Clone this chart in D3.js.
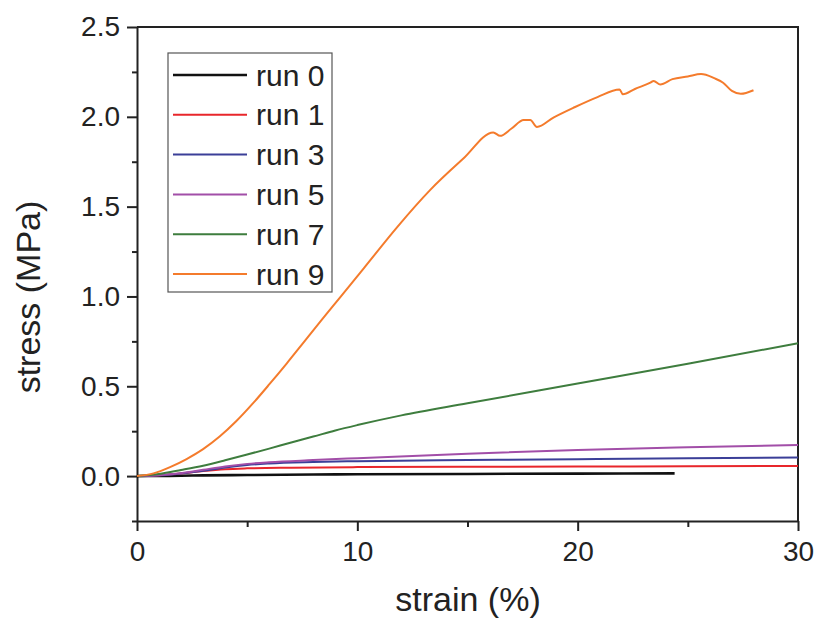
<!DOCTYPE html>
<html>
<head>
<meta charset="utf-8">
<script src="https://cdn.jsdelivr.net/npm/d3@7"></script>
<style>
  body { margin: 0; background: #fff; }
  text { font-family: "Liberation Sans", Arial, sans-serif; fill: #222; }
</style>
</head>
<body>
<div id="chart"></div>
<script>
// run labels and colours
const runNames = ['run 0', 'run 1', 'run 3', 'run 5', 'run 7', 'run 9'];
const runColors = ['#111111', '#e8262b', '#3b3f98', '#a24ea8', '#3e7d3e', '#f47b2c'];

// strain (%) / stress (MPa)
const run0Strain = [0, 1, 2, 3, 5, 8, 10, 15, 20, 24.4];
const run0Stress = [0, 0.001, 0.002, 0.004, 0.006, 0.009, 0.010, 0.012, 0.014, 0.015];

const run1Strain = [0, 1, 2, 3, 4, 5, 7, 10, 15, 20, 25, 30];
const run1Stress = [0, 0.005, 0.015, 0.028, 0.038, 0.043, 0.047, 0.050, 0.052, 0.053, 0.055, 0.056];

const run3Strain = [0, 1, 2, 3, 4, 5, 6, 8, 10, 15, 20, 25, 30];
const run3Stress = [0, 0.004, 0.015, 0.03, 0.048, 0.062, 0.07, 0.078, 0.083, 0.089, 0.094, 0.099, 0.104];

const run5Strain = [0, 1, 2, 3, 4, 5, 6, 8, 10, 15, 20, 25, 30];
const run5Stress = [0, 0.005, 0.016, 0.035, 0.054, 0.068, 0.077, 0.089, 0.100, 0.125, 0.145, 0.160, 0.173];

const run7Strain = [0, 1, 2, 3, 4, 5, 6, 7, 8, 9, 10, 12, 15, 20, 25, 30];
const run7Stress = [0, 0.012, 0.034, 0.058, 0.088, 0.12, 0.153, 0.187, 0.22, 0.254, 0.284, 0.338, 0.405, 0.515, 0.625, 0.74];

const run9Strain = [0, 0.75, 1.5, 2.25, 3, 3.75, 4.5, 5.3, 6.0, 6.8, 7.6, 8.4, 9.2, 10.3, 11.8, 13.3, 14.8,
  16.17, 16.48, 17.0, 17.55, 17.85, 18.15, 18.9, 19.8, 20.9, 21.9, 22.05, 22.6, 23.3, 23.45, 23.75, 24.3, 25.0,
  25.6, 26.2, 26.6, 27.0, 27.4, 27.98];
const run9Stress = [0, 0.015, 0.05, 0.095, 0.15, 0.22, 0.305, 0.41, 0.51, 0.628, 0.75, 0.872, 0.992, 1.158, 1.385, 1.592, 1.766,
  1.913, 1.894, 1.935, 1.982, 1.982, 1.944, 1.996, 2.05, 2.11, 2.152, 2.125, 2.155, 2.19, 2.2, 2.18, 2.21, 2.225,
  2.238, 2.215, 2.19, 2.144, 2.128, 2.148];

const xTicks = [0, 10, 20, 30];
const yTicks = [0.0, 0.5, 1.0, 1.5, 2.0, 2.5];
const xMinor = [5, 15, 25];
const yMinor = [-0.25, 0.25, 0.75, 1.25, 1.75, 2.25];

const runs = [
  [run0Strain, run0Stress], [run1Strain, run1Stress], [run3Strain, run3Stress],
  [run5Strain, run5Stress], [run7Strain, run7Stress], [run9Strain, run9Stress]
].map((r, i) => ({
  name: runNames[i],
  color: runColors[i],
  values: r[0].map((s, j) => ({ strain: s, stress: r[1][j] }))
}));

const w = 820, h = 624;
const margin = { top: 27, right: 22, bottom: 103, left: 137 };
const innerWidth = w - margin.left - margin.right;
const innerHeight = h - margin.top - margin.bottom;

const svg = d3.select('#chart').append('svg')
  .attr('width', w)
  .attr('height', h);

const g = svg.append('g')
  .attr('transform', `translate(${margin.left},${margin.top})`);

const xScale = d3.scaleLinear().domain([0, 30]).range([0, innerWidth]);
const yScale = d3.scaleLinear().domain([-0.25, 2.5]).range([innerHeight, 0]);

// frame (top and right)
g.append('path')
  .attr('d', `M0,0H${innerWidth}V${innerHeight}`)
  .attr('fill', 'none')
  .attr('stroke', '#222')
  .attr('stroke-width', 2);

// minor ticks
const xMinorG = g.append('g')
  .attr('transform', `translate(0,${innerHeight})`)
  .call(d3.axisBottom(xScale).tickValues(xMinor).tickSize(6).tickFormat(''));

const yMinorG = g.append('g')
  .call(d3.axisLeft(yScale).tickValues(yMinor).tickSize(5).tickFormat(''));

[xMinorG, yMinorG].forEach(a => {
  a.select('.domain').remove();
  a.selectAll('text').remove();
  a.selectAll('line').attr('stroke', '#222').attr('stroke-width', 2);
});

// major axes
const xAxisG = g.append('g')
  .attr('transform', `translate(0,${innerHeight})`)
  .call(d3.axisBottom(xScale).tickValues(xTicks).tickSize(10).tickSizeOuter(0).tickPadding(10).tickFormat(d3.format('d')));

const yAxisG = g.append('g')
  .call(d3.axisLeft(yScale).tickValues(yTicks).tickSize(10).tickSizeOuter(0).tickPadding(7).tickFormat(d3.format('.1f')));

[xAxisG, yAxisG].forEach(a => {
  a.select('.domain').attr('stroke', '#222').attr('stroke-width', 2);
  a.selectAll('line').attr('stroke', '#222').attr('stroke-width', 2);
  a.selectAll('text')
    .style('font-family', '"Liberation Sans", Arial, sans-serif')
    .style('font-size', '28px')
    .attr('fill', '#222');
});

// lines
const line = d3.line()
  .x(d => xScale(d.strain))
  .y(d => yScale(d.stress))
  .curve(d3.curveMonotoneX);

g.selectAll('.run')
  .data(runs)
  .enter()
  .append('path')
  .attr('class', 'run')
  .attr('d', d => line(d.values))
  .attr('fill', 'none')
  .attr('stroke', d => d.color)
  .attr('stroke-width', (d, i) => i === 0 ? 2.6 : 2)
  .attr('stroke-linejoin', 'round');

// legend
const legend = svg.append('g')
  .attr('transform', 'translate(168,53)');

legend.append('rect')
  .attr('width', 164)
  .attr('height', 239)
  .attr('fill', '#fff')
  .attr('stroke', '#555')
  .attr('stroke-width', 1.2);

const item = legend.selectAll('.item')
  .data(runs)
  .enter()
  .append('g')
  .attr('transform', (d, i) => `translate(0,${22 + i * 39.8})`);

item.append('line')
  .attr('x1', 5).attr('x2', 79)
  .attr('stroke', d => d.color)
  .attr('stroke-width', (d, i) => i === 0 ? 2.6 : 2);

item.append('text')
  .attr('x', 88)
  .attr('y', 10.5)
  .text(d => d.name)
  .style('font-size', '30px');

// axis titles
svg.append('text')
  .attr('x', 468)
  .attr('y', 611)
  .attr('text-anchor', 'middle')
  .text('strain (%)')
  .style('font-size', '34px');

svg.append('text')
  .attr('transform', 'translate(40,297) rotate(-90)')
  .attr('text-anchor', 'middle')
  .text('stress (MPa)')
  .style('font-size', '34px');
</script>
</body>
</html>
